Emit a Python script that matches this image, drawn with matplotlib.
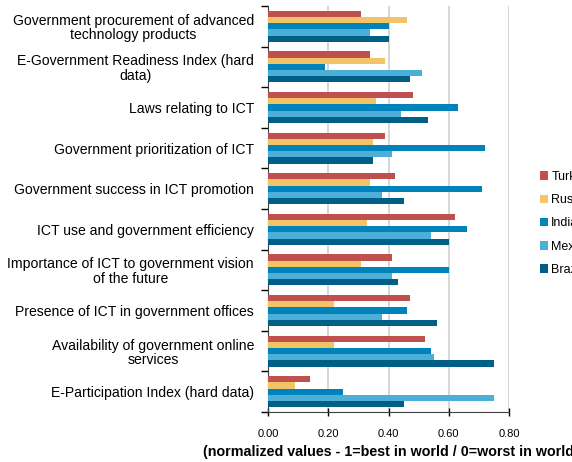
import matplotlib
matplotlib.use('Agg')
import matplotlib.pyplot as plt
import numpy as np

plt.rcParams['font.family'] = ['Liberation Sans', 'DejaVu Sans']

# categories, top to bottom
categories = [
    'Government procurement of advanced\ntechnology products',
    'E-Government Readiness Index (hard\ndata)',
    'Laws relating to ICT',
    'Government prioritization of ICT',
    'Government success in ICT promotion',
    'ICT use and government efficiency',
    'Importance of ICT to government vision\nof the future',
    'Presence of ICT in government offices',
    'Availability of government online\nservices',
    'E-Participation Index (hard data)',
]

countries = ['Turkey', 'Russia', 'India', 'Mexico', 'Brazil']
colors = ['#C0504D', '#F2C465', '#0083BA', '#4BAFD8', '#005F87']

turkey = [0.31, 0.34, 0.48, 0.39, 0.42, 0.62, 0.41, 0.47, 0.52, 0.14]
russia = [0.46, 0.39, 0.36, 0.35, 0.34, 0.33, 0.31, 0.22, 0.22, 0.09]
india = [0.40, 0.19, 0.63, 0.72, 0.71, 0.66, 0.60, 0.46, 0.54, 0.25]
mexico = [0.34, 0.51, 0.44, 0.41, 0.38, 0.54, 0.41, 0.38, 0.55, 0.75]
brazil = [0.40, 0.47, 0.53, 0.35, 0.45, 0.60, 0.43, 0.56, 0.75, 0.45]
series = [turkey, russia, india, mexico, brazil]

fig = plt.figure(figsize=(5.72, 4.62), dpi=100)
ax = fig.add_axes([268 / 572, 1 - 412 / 462, 241 / 572, 406 / 462])

y = np.arange(len(categories))
h = 0.153
for i, (vals, name, c) in enumerate(zip(series, countries, colors)):
    ax.barh(y + (i - 2) * h, vals, height=h, color=c, label=name, zorder=3)

ax.set_xlim(0, 0.8)
ax.set_ylim(len(categories) - 0.5, -0.5)
ax.set_xticks([0, 0.2, 0.4, 0.6, 0.8])
ax.set_xticklabels(['0.00', '0.20', '0.40', '0.60', '0.80'], fontsize=8)
ax.tick_params(axis='x', direction='inout', length=6, width=1, pad=9)
ax.grid(axis='x', color='#D3D3D3', linewidth=1.3, zorder=0)

ax.set_yticks(y)
ax.set_yticklabels(categories, fontsize=10.1, multialignment='center', linespacing=1.05)
ax.tick_params(axis='y', length=0, pad=10)
ax.set_yticks(np.arange(-0.5, len(categories), 1), minor=True)
ax.tick_params(axis='y', which='minor', length=5, width=1, direction='out')

for s in ['top', 'right']:
    ax.spines[s].set_visible(False)
ax.spines['left'].set_color('#404040')
ax.spines['bottom'].set_color('#404040')

fig.text(203 / 572, 1 - 452 / 462, '(normalized values - 1=best in world / 0=worst in world)',
         fontsize=10.3, fontweight='bold', ha='left', va='center')

handles, labels = ax.get_legend_handles_labels()
fig.legend(handles, labels, loc='upper left', bbox_to_anchor=(540 / 572, 1 - 171 / 462),
           frameon=False, fontsize=9, handlelength=0.65, handleheight=0.65,
           handletextpad=0.25, labelspacing=0.9, borderpad=0, borderaxespad=0)

fig.savefig('out.png', dpi=100)
